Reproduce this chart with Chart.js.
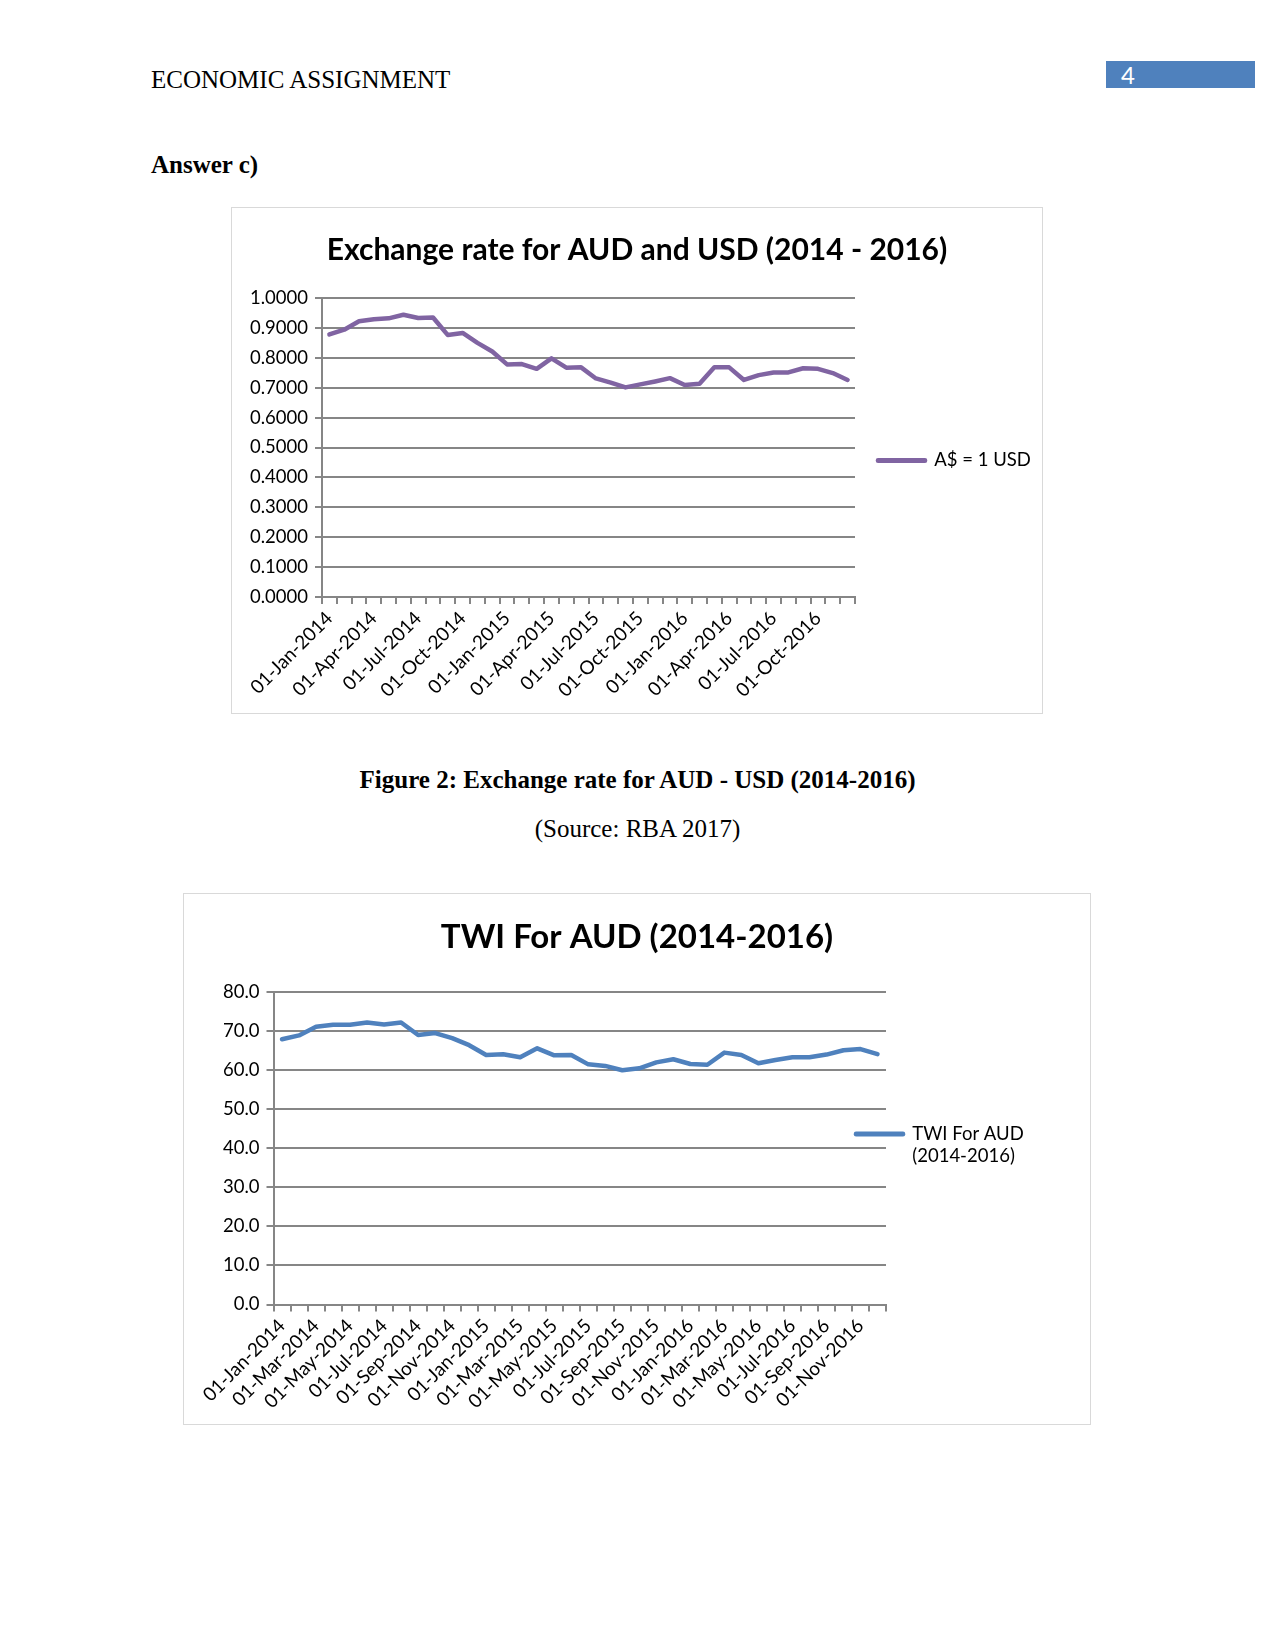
<!DOCTYPE html>
<html>
<head>
<meta charset="utf-8">
<script src="https://cdn.jsdelivr.net/npm/chart.js@4.4.1/dist/chart.umd.min.js"></script>
<style>
  body { margin: 0; background: #fff; }
  #page { position: relative; width: 1275px; height: 1650px; overflow: hidden; background: #fff;
          font-family: "Liberation Serif", "Times New Roman", serif; color: #000; }
  .t { position: absolute; white-space: nowrap; line-height: 1; font-size: 25px; }
  .box { position: absolute; border: 1.5px solid #d9d9d9; box-sizing: border-box; background: #fff; }
  .box canvas { position: absolute; left: -1.5px; top: -1.5px; }
</style>
</head>
<body>
<div id="page">
  <div class="t" style="left:151px; top:67px;">ECONOMIC ASSIGNMENT</div>
  <div style="position:absolute; left:1106px; top:61px; width:149px; height:27px; background:#4F81BD;"></div>
  <div class="t" style="left:1121px; top:63px; color:#fff; font-family:Lato, sans-serif; font-size:24px;">4</div>
  <div class="t" style="left:151px; top:152px; font-weight:bold;">Answer c)</div>

  <div class="box" style="left:231px; top:207px; width:812px; height:507px;">
    <canvas id="c1" width="812" height="507"></canvas>
  </div>

  <div class="t" style="left:0; width:1275px; text-align:center; top:767px; font-weight:bold;">Figure 2: Exchange rate for AUD - USD (2014-2016)</div>
  <div class="t" style="left:0; width:1275px; text-align:center; top:816px;">(Source: RBA 2017)</div>

  <div class="box" style="left:183px; top:893px; width:908px; height:532px;">
    <canvas id="c2" width="908" height="532"></canvas>
  </div>
</div>
<script>
// ---- Data ----
const months = [
  '01-Jan-2014','01-Feb-2014','01-Mar-2014','01-Apr-2014','01-May-2014','01-Jun-2014',
  '01-Jul-2014','01-Aug-2014','01-Sep-2014','01-Oct-2014','01-Nov-2014','01-Dec-2014',
  '01-Jan-2015','01-Feb-2015','01-Mar-2015','01-Apr-2015','01-May-2015','01-Jun-2015',
  '01-Jul-2015','01-Aug-2015','01-Sep-2015','01-Oct-2015','01-Nov-2015','01-Dec-2015',
  '01-Jan-2016','01-Feb-2016','01-Mar-2016','01-Apr-2016','01-May-2016','01-Jun-2016',
  '01-Jul-2016','01-Aug-2016','01-Sep-2016','01-Oct-2016','01-Nov-2016','01-Dec-2016'
];
const audPerUsd = [
  0.878, 0.894, 0.922, 0.929, 0.932, 0.944, 0.933, 0.935, 0.876, 0.883, 0.850, 0.821,
  0.778, 0.779, 0.763, 0.798, 0.767, 0.768, 0.731, 0.717, 0.701, 0.711, 0.721, 0.732,
  0.709, 0.713, 0.768, 0.768, 0.726, 0.742, 0.751, 0.751, 0.765, 0.763, 0.749, 0.726
];
const twiAud = [
  67.8, 68.8, 71.0, 71.5, 71.5, 72.1, 71.6, 72.1, 68.9, 69.4, 68.1, 66.3,
  63.8, 64.0, 63.2, 65.5, 63.7, 63.8, 61.4, 61.0, 59.9, 60.4, 61.9, 62.7,
  61.5, 61.3, 64.4, 63.8, 61.7, 62.5, 63.2, 63.2, 63.9, 65.0, 65.3, 64.0
];
const chart1Title = 'Exchange rate for AUD and USD (2014 - 2016)';
const chart1Series = 'A$ = 1 USD';
const chart1LabelStep = 3;
const chart1YMax = 1.0, chart1YStep = 0.1;
const chart2Title = 'TWI For AUD (2014-2016)';
const chart2Series = ['TWI For AUD', '(2014-2016)'];
const chart2LabelStep = 2;
const chart2YMax = 80, chart2YStep = 10;

// ---- Styles ----
const FONT = 'Lato, "Noto Sans", sans-serif';
const GRID = '#868686';
const LEGEND_PAD = 60;

// Moves the legend entry horizontally relative to the plot edge (Excel lets it overlap)
function legendPlacer(gap, dy) {
  return {
    id: 'legendPlacer',
    afterLayout(chart) {
      const L = chart.legend;
      if (!L) return;
      L.left = chart.chartArea.right + gap - LEGEND_PAD;
      L.width = L.right - L.left;
      L.top += dy; L.bottom += dy;
    }
  };
}

function makeOptions(cfg) {
  return {
    responsive: false,
    animation: false,
    layout: { padding: 0 },
    plugins: {
      title: {
        display: true, text: cfg.title, color: '#000',
        font: { family: FONT, size: cfg.titleSize, weight: 'bold' },
        padding: { top: cfg.titleTop, bottom: cfg.titleBottom }
      },
      legend: {
        position: 'right',
        maxWidth: cfg.legendWidth,
        labels: { boxWidth: 47, boxHeight: 0.5, padding: LEGEND_PAD, color: '#000',
                  font: { family: FONT, size: 18.5 } }
      },
      tooltip: { enabled: false }
    },
    scales: {
      x: {
        offset: true,
        grid: { offset: true, drawOnChartArea: false, drawTicks: true, tickLength: 7,
                color: GRID, lineWidth: 2 },
        border: { color: GRID, width: 2 },
        ticks: {
          autoSkip: false, minRotation: 45, maxRotation: 45, padding: 3,
          color: '#000', font: { family: FONT, size: 19 },
          callback: (v, i) => (i % cfg.step === 0 ? months[i] : '')
        },
        afterFit: s => { s.height = cfg.xHeight; }
      },
      y: {
        min: 0, max: cfg.yMax,
        grid: { color: GRID, lineWidth: 2, tickLength: 7 },
        border: { color: GRID, width: 2 },
        ticks: { stepSize: cfg.yStep, padding: 7, color: '#000',
                 font: { family: FONT, size: 18.5 },
                 callback: v => Number(v).toFixed(cfg.decimals) },
        afterFit: s => { s.width = cfg.yWidth; }
      }
    }
  };
}

new Chart(document.getElementById('c1'), {
  type: 'line',
  data: {
    labels: months,
    datasets: [{
      label: chart1Series, data: audPerUsd,
      borderColor: '#8064A2', backgroundColor: '#8064A2',
      borderWidth: 4.5, pointRadius: 0, tension: 0,
      borderJoinStyle: 'round', borderCapStyle: 'round'
    }]
  },
  options: makeOptions({
    title: chart1Title, titleSize: 30, titleTop: 25, titleBottom: 30,
    legendWidth: 188, step: chart1LabelStep, xHeight: 117, yWidth: 91,
    yMax: chart1YMax, yStep: chart1YStep, decimals: 4
  }),
  plugins: [legendPlacer(23, 0)]
});

new Chart(document.getElementById('c2'), {
  type: 'line',
  data: {
    labels: months,
    datasets: [{
      label: chart2Series, data: twiAud,
      borderColor: '#4F81BD', backgroundColor: '#4F81BD',
      borderWidth: 4.5, pointRadius: 0, tension: 0,
      borderJoinStyle: 'round', borderCapStyle: 'round'
    }]
  },
  options: makeOptions({
    title: chart2Title, titleSize: 33, titleTop: 25, titleBottom: 34,
    legendWidth: 205, step: chart2LabelStep, xHeight: 120.5, yWidth: 90.5,
    yMax: chart2YMax, yStep: chart2YStep, decimals: 1
  }),
  plugins: [legendPlacer(-30, -12)]
});
</script>
</body>
</html>
